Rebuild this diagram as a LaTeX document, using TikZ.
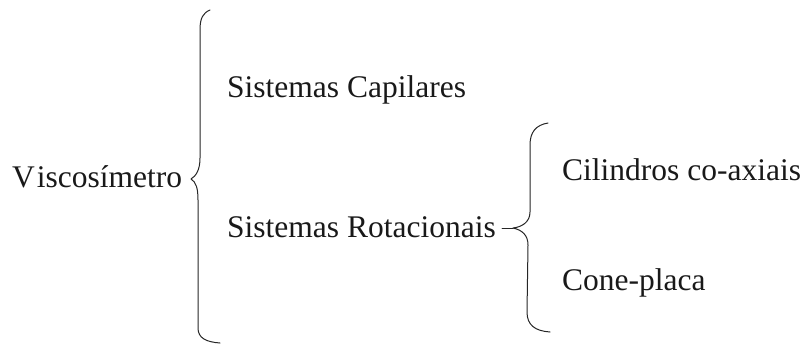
\documentclass[tikz,border=0pt]{standalone}
\usepackage{fontspec}
\setmainfont{Liberation Serif}
\begin{document}
\begin{tikzpicture}[x=1pt,y=-1pt,
  label/.style={anchor=base west,inner sep=0pt,font=\fontsize{31.5}{36}\selectfont,text=black!90},
  brace/.style={draw=black!85,line width=1pt,line cap=round,line join=round}]
\useasboundingbox (0,0) rectangle (805,345);

% texts
\node[label] (visc) at (12,187) {V\kern2pt iscosímetro};
\node[label] (cap)  at (227,97)  {Sistemas Capilares};
\node[label] (rot)  at (227,237) {Sistemas Rotacionais};
\node[label] (cil)  at (562,180) {Cilindros co-axiais};
\node[label] (cone) at (562,290) {Cone-placa};

% brace points
\coordinate (btip) at (191,179);
\coordinate (stip) at (513,228);
\coordinate (sstub) at (502,228);

% large brace: Viscosímetro
\draw[brace] (210,10) .. controls (203,13) and (200,18) .. (200,30)
  -- (200,158) .. controls (200,170) and (196,176) .. (btip)
  .. controls (196,182) and (198,188) .. (198,200)
  -- (198,328) .. controls (198,338) and (206,342) .. (220,343);

% small brace: Sistemas Rotacionais
\draw[brace] (sstub) -- (stip);
\draw[brace] (548,123) .. controls (536,125) and (530,132) .. (530,145)
  -- (530,212) .. controls (530,222) and (522,227) .. (stip)
  .. controls (522,230) and (528,235) .. (528,245)
  -- (527,312) .. controls (527,325) and (535,331) .. (550,332);
\end{tikzpicture}
\end{document}
